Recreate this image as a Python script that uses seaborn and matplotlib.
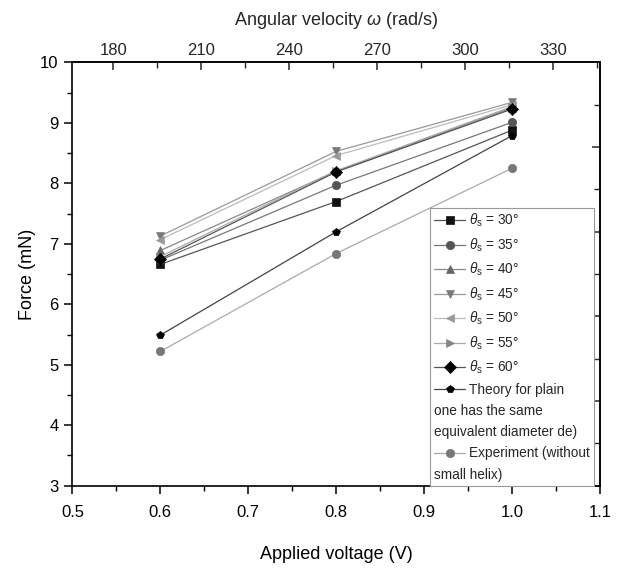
import matplotlib
matplotlib.use("Agg")
import matplotlib.pyplot as plt
from matplotlib.lines import Line2D
from matplotlib.ticker import MultipleLocator, FixedLocator, FormatStrFormatter
import seaborn as sns

# applied voltage (V) and measured/predicted force (mN)
voltage = [0.6, 0.8, 1.0]
theta_30 = [6.66, 7.70, 8.88]
theta_35 = [6.73, 7.97, 9.01]
theta_40 = [6.89, 8.20, 9.25]
theta_45 = [7.13, 8.53, 9.34]
theta_50 = [7.07, 8.46, 9.30]
theta_55 = [6.79, 8.21, 9.27]
theta_60 = [6.75, 8.19, 9.23]
theory = [5.49, 7.20, 8.79]
experiment = [5.22, 6.84, 8.25]

angles = [30, 35, 40, 45, 50, 55, 60]
labels = [r"$\theta_{\rm s}$ = %d°" % a for a in angles] + [
    "Theory for plain",
    "Experiment (without",
]
values = [theta_30, theta_35, theta_40, theta_45, theta_50, theta_55, theta_60,
          theory, experiment]
markers = ["s", "o", "^", "v", "<", ">", "D", "p", "o"]
marker_colors = ["#111111", "#555555", "#666666", "#7a7a7a", "#9a9a9a",
                 "#858585", "#000000", "#000000", "#777777"]
line_colors = ["#555555", "#777777", "#888888", "#999999", "#bbbbbb",
               "#aaaaaa", "#555555", "#444444", "#aaaaaa"]

sns.set_theme(style="ticks")
plt.rcParams["font.family"] = ["Liberation Sans", "DejaVu Sans"]
plt.rcParams["mathtext.fontset"] = "custom"
plt.rcParams["mathtext.rm"] = "Liberation Sans"
plt.rcParams["mathtext.it"] = "Liberation Sans:italic"

fig = plt.figure(figsize=(6.22, 5.68), dpi=100)
ax = fig.add_axes([0.1165, 0.145, 0.848, 0.745])

for lab, vals, mk, mc, lc in zip(labels, values, markers, marker_colors, line_colors):
    sns.lineplot(x=voltage, y=vals, ax=ax, marker=mk, color=lc,
                 markerfacecolor=mc, markeredgecolor=mc, markersize=6,
                 markeredgewidth=0.5, linewidth=0.9, label=lab)

ax.set_xlim(0.5, 1.1)
ax.set_ylim(3, 10)
ax.xaxis.set_major_locator(MultipleLocator(0.1))
ax.xaxis.set_minor_locator(MultipleLocator(0.05))
ax.yaxis.set_major_locator(MultipleLocator(1))
ax.yaxis.set_minor_locator(MultipleLocator(0.5))
ax.xaxis.set_major_formatter(FormatStrFormatter("%.1f"))
ax.tick_params(which="major", direction="out", length=6, width=1.1,
               labelsize=12, color="black", labelcolor="black")
ax.tick_params(axis="x", which="major", pad=8)
ax.tick_params(axis="y", which="major", pad=4)
ax.tick_params(which="minor", direction="out", length=3.5, width=1.0, color="black")
for sp in ax.spines.values():
    sp.set_visible(True)
    sp.set_color("black")
    sp.set_linewidth(1.2)
ax.set_xlabel("Applied voltage (V)", fontsize=13, labelpad=19, color="black")
ax.set_ylabel("Force (mN)", fontsize=13, labelpad=3, color="black")

# top axis: angular velocity
top = ax.secondary_xaxis("top", functions=(lambda v: 300 * v + 16,
                                           lambda w: (w - 16) / 300))
top.xaxis.set_major_locator(FixedLocator([180, 210, 240, 270, 300, 330]))
top.xaxis.set_minor_locator(FixedLocator([195, 225, 255, 285, 315, 345]))
top.tick_params(which="major", direction="in", length=6, width=1.1,
                labelsize=12, pad=3)
top.tick_params(which="minor", direction="in", length=4, width=1.0)
top.set_xlabel(r"Angular velocity $\omega$ (rad/s)", fontsize=13, labelpad=13)

# right axis: unlabeled ticks
right = ax.secondary_yaxis("right", functions=(lambda f: (f - 3) * 10 / 7,
                                               lambda g: g * 0.7 + 3))
right.yaxis.set_major_locator(MultipleLocator(2))
right.yaxis.set_minor_locator(MultipleLocator(1))
right.tick_params(which="major", direction="in", length=6, width=1.1, labelright=False)
right.tick_params(which="minor", direction="in", length=4, width=1.0)

# legend with wrapped labels that continue from the left edge
handles, labs = ax.get_legend_handles_labels()
blank = Line2D([], [], linestyle="none")
cont = ["one has the same", "equivalent diameter de)", "small helix)"]
handles = handles[:8] + [blank, blank] + [handles[8], blank]
labs = labs[:8] + cont[:2] + [labs[8], cont[2]]
leg = ax.legend(handles, labs, loc="lower right", bbox_to_anchor=(0.988, 0.0),
                borderaxespad=0, fontsize=9.8, frameon=True, fancybox=False,
                edgecolor="#999999", framealpha=1, handlelength=2.3,
                handletextpad=0.25, labelspacing=0.52, borderpad=0.3)
leg.get_frame().set_linewidth(0.8)
for column in leg._legend_handle_box.get_children():
    for item in column.get_children():
        handle_box, text_box = item.get_children()
        if text_box.get_text() in cont:
            handle_box.width = 0
            item.sep = 0

fig.savefig("out.png", dpi=100)
